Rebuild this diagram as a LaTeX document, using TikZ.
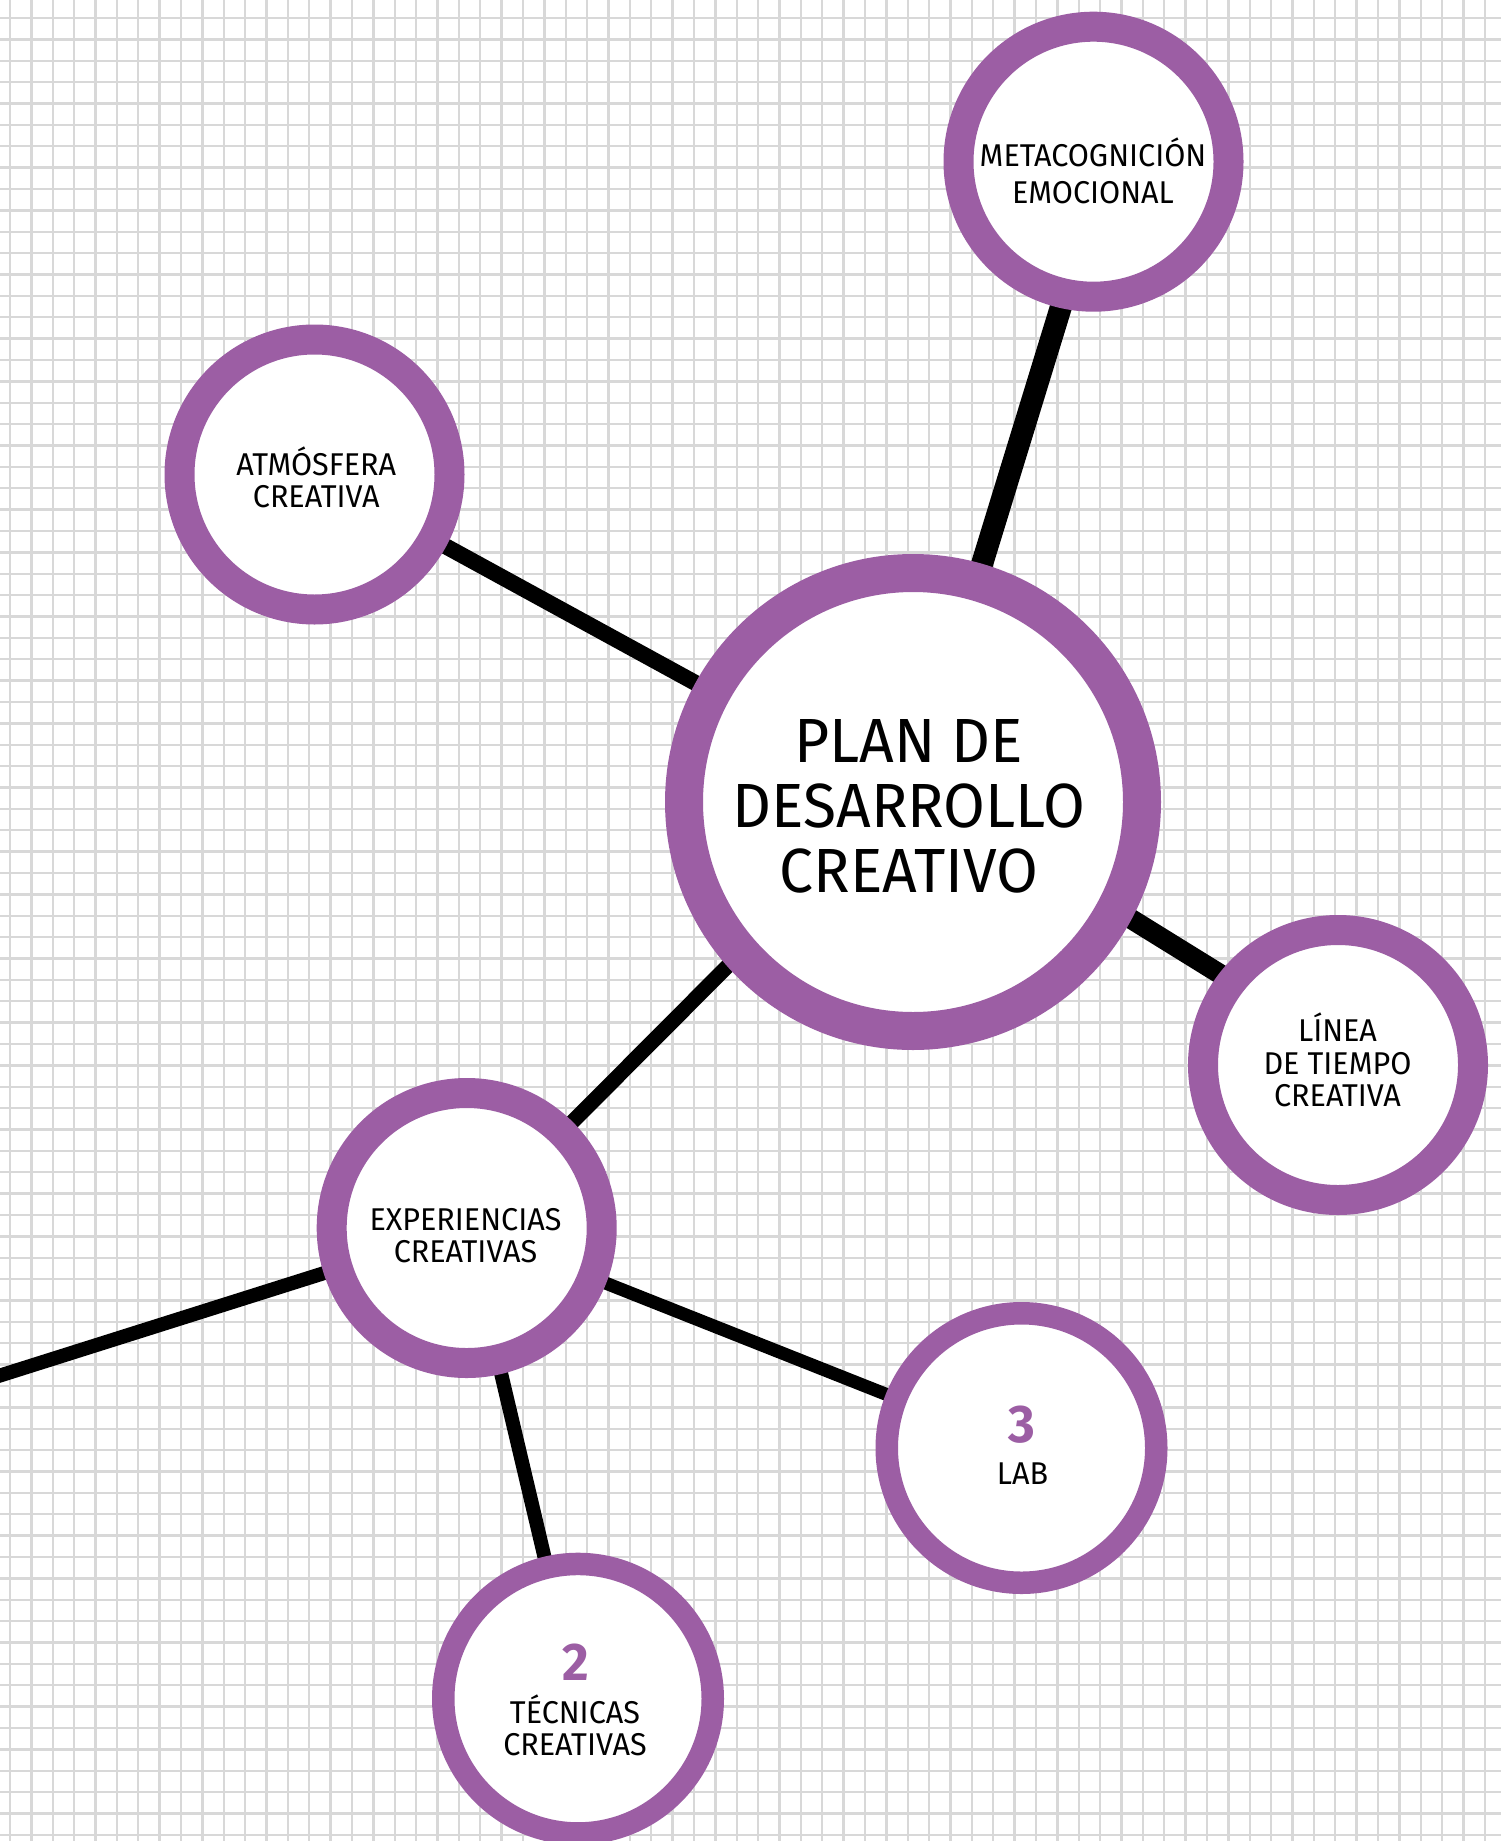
\documentclass[tikz,border=0pt]{standalone}
\usepackage{fontspec}
\setmainfont{Fira Sans}[FakeStretch=0.97]
\usetikzlibrary{calc}
\definecolor{ringpurple}{RGB}{156,94,164}
\definecolor{gridgray}{RGB}{216,216,216}
\pgfdeclarelayer{grid}
\pgfdeclarelayer{links}
\pgfsetlayers{grid,links,main}
\begin{document}
\begin{tikzpicture}[x=1pt,y=-1pt,
  ring/.style={circle,draw=ringpurple,fill=white,inner sep=0pt},
  bigring/.style={ring,line width=38pt,minimum size=458pt},
  midring/.style={ring,line width=30pt,minimum size=270pt},
  thinring/.style={ring,line width=22.5pt,minimum size=269.5pt},
  link/.style={draw=black,line width=#1},
  gridline/.style={draw=gridgray,line width=2.4pt},
  lbl/.style={font=\fontsize{31.5}{#1}\selectfont,align=center,inner sep=0pt,anchor=base,text=black},
  biglbl/.style={font=\fontsize{62.4}{65}\selectfont,align=center,inner sep=0pt,anchor=base,text=black},
  numlbl/.style={font=\fontsize{53}{53}\selectfont\bfseries,inner sep=0pt,anchor=base,text=ringpurple}
]
\useasboundingbox (0,0) rectangle (1501,1841);
\begin{pgfonlayer}{grid}
  \fill[white] (0,0) rectangle (1501,1841);
  \foreach \i in {0,...,69} \draw[gridline] ({10+21.375*\i},0) -- ({10+21.375*\i},1841);
  \foreach \j in {0,...,85} \draw[gridline] (0,{18+21.375*\j}) -- (1501,{18+21.375*\j});
\end{pgfonlayer}

% circles
\node[bigring] (cen) at (913,802) {};
\node[midring] (meta) at (1093.5,161.7) {};
\node[midring] (atm) at (314.5,474.5) {};
\node[midring] (lin) at (1338,1065) {};
\node[midring] (exp) at (466.7,1228) {};
\node[thinring] (lab) at (1021.5,1448) {};
\node[thinring] (tec) at (578,1698.7) {};
\coordinate (leftend) at (-30,1385);

% connectors
\begin{pgfonlayer}{links}
  \draw[link=22pt] ($(cen.center)+(-4,0)$) -- ($(meta.center)+(12,0)$);
  \draw[link=16pt] (cen.center) -- (atm.center);
  \draw[link=20pt] ($(cen.center)+(0,-18)$) -- ($(lin.center)+(0,-18)$);
  \draw[link=15pt] ($(cen.center)+(0,-22)$) -- (exp.center);
  \draw[link=14pt] (exp.center) -- (leftend);
  \draw[link=13pt] (exp.center) -- (lab.center);
  \draw[link=14pt] (exp.center) -- (tec.center);
\end{pgfonlayer}

% texts (anchor=base of a multi-line node is the last line's baseline)
\node[biglbl] (tcen) at (909,892) {PLAN DE\\DESARROLLO\\CREATIVO};
\node[lbl=36.6] (tmeta) at (1093,203.3) {METACOGNICIÓN\\EMOCIONAL};
\node[lbl=32.7] (tatm) at (316.3,507.7) {ATMÓSFERA\\CREATIVA};
\node[lbl=32.5] (tlin) at (1337.5,1106.7) {LÍNEA\\DE TIEMPO\\CREATIVA};
\node[lbl=32] (texp) at (465.5,1262.7) {EXPERIENCIAS\\CREATIVAS};
\node[numlbl] (nlab) at (1021.5,1442.3) {3};
\node[lbl=32] (tlab) at (1022.5,1484) {LAB};
\node[numlbl] (ntec) at (576,1680) {2};
\node[lbl=32] (ttec) at (575,1755) {TÉCNICAS\\CREATIVAS};
\end{tikzpicture}
\end{document}
